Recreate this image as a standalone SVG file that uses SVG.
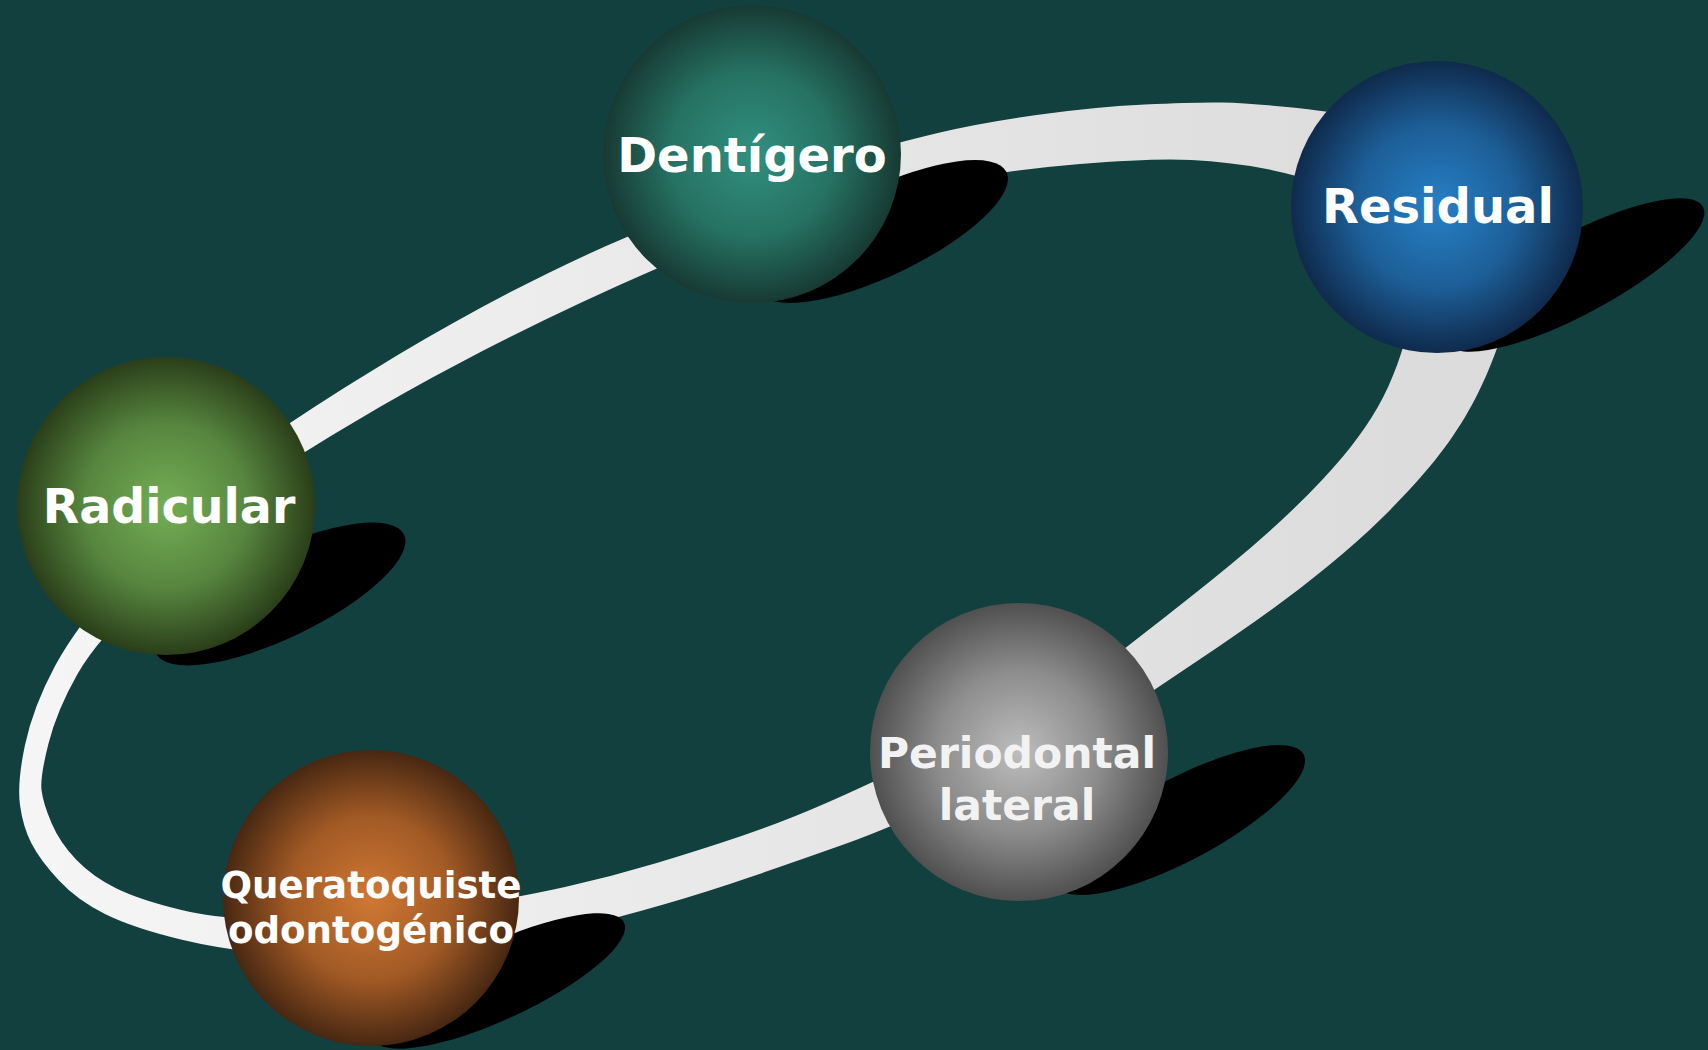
<svg xmlns="http://www.w3.org/2000/svg" width="1708" height="1050" viewBox="0 0 1708 1050">
<defs>
<style>
.lbl{font-family:"DejaVu Sans","Verdana",sans-serif;font-weight:bold;text-anchor:middle;fill:#ffffff}
.lbl-gray{fill:#f2f2f2}
.shadow{fill:#000000}
</style>
<linearGradient id="band" gradientUnits="userSpaceOnUse" x1="0" y1="0" x2="1400" y2="0">
<stop offset="0" stop-color="#f6f6f6"/>
<stop offset="1" stop-color="#dcdcdc"/>
</linearGradient>
<radialGradient id="gTeal" cx="0.5" cy="0.5" r="0.5">
<stop offset="0" stop-color="#31907f"/>
<stop offset="0.55" stop-color="#267263"/>
<stop offset="1" stop-color="#173a33"/>
</radialGradient>
<radialGradient id="gBlue" cx="0.5" cy="0.5" r="0.5">
<stop offset="0" stop-color="#2680c6"/>
<stop offset="0.55" stop-color="#1d5f98"/>
<stop offset="1" stop-color="#0f2a4c"/>
</radialGradient>
<radialGradient id="gGreen" cx="0.5" cy="0.5" r="0.5">
<stop offset="0" stop-color="#74ae55"/>
<stop offset="0.55" stop-color="#57863f"/>
<stop offset="1" stop-color="#2a3e19"/>
</radialGradient>
<radialGradient id="gGray" cx="0.5" cy="0.5" r="0.5">
<stop offset="0" stop-color="#bdbdbd"/>
<stop offset="0.55" stop-color="#8c8c8c"/>
<stop offset="1" stop-color="#505050"/>
</radialGradient>
<radialGradient id="gOrange" cx="0.5" cy="0.5" r="0.5">
<stop offset="0" stop-color="#d07833"/>
<stop offset="0.55" stop-color="#a25a25"/>
<stop offset="1" stop-color="#472712"/>
</radialGradient>
</defs>
<rect x="0" y="0" width="1708" height="1050" fill="#12403f"/>
<g id="connectors">
<path fill="url(#band)" fill-rule="evenodd" d="M 55,666 Q 33,707 25,745 Q 17,783 20,805 Q 23,827 31.5,843.5 Q 40,860 58.5,880 Q 77,900 105,914 Q 133,928 183,940 Q 233,952 306.5,957 Q 380,962 450,952 Q 520,942 570,929.5 Q 620,917 663.5,904.5 Q 707,892 753.5,876 Q 800,860 845,844 Q 890,828 956,797 L 1130,706 C 1217,647.3 1308.1,590.6 1383,517 C 1457.9,443.4 1487.8,391.4 1515,290 L 1475,189 Q 1440,128 1383.5,119.5 Q 1327,111 1287,107 Q 1247,103 1222,102.5 Q 1197,102 1145,104.5 Q 1093,107 1036.5,115 Q 980,123 940,132.5 Q 900,142 830,161 L 627,237 C 509.2,287 396.9,352.6 290,423 L 180,510 L 128.5,567.5 Q 77,625 55,666 Z M 77.5,674 Q 57,710 48.5,743.5 Q 40,777 41.5,790 Q 43,803 51.5,823 Q 60,843 76.5,860 Q 93,877 116.5,888.5 Q 140,900 181.5,910 Q 223,920 296.5,921 Q 370,922 445,909.5 Q 520,897 565,887 Q 610,877 655,863.5 Q 700,850 741.5,836 Q 783,822 827.5,802.5 Q 872,783 936,751.5 L 1100,668 C 1175.7,607.3 1256.8,549.9 1323,479 C 1377.6,420.5 1398.4,378.2 1415,300 L 1395,240 Q 1370,200 1334,187.5 Q 1298,175 1264,168.5 Q 1230,162 1191.5,160 Q 1153,158 1080,164 Q 1007,170 943.5,182.5 Q 880,195 820,210 L 658,268 C 535.9,320.8 417.8,381.5 305,452 L 200,545 L 149,591.5 Q 98,638 77.5,674 Z"/>
</g>
<g id="node-dentigero">
<ellipse class="shadow" cx="882.5" cy="231.5" rx="137.5" ry="44" transform="rotate(-25.6 882.5 231.5)"/>
<circle cx="752" cy="154" r="149" fill="url(#gTeal)"/>
<text class="lbl" x="752" y="172" font-size="48">Dentígero</text>
</g>
<g id="node-residual">
<ellipse class="shadow" cx="1575" cy="275" rx="145" ry="40" transform="rotate(-28 1575 275)"/>
<circle cx="1437" cy="207" r="146" fill="url(#gBlue)"/>
<text class="lbl" x="1438" y="223" font-size="48">Residual</text>
</g>
<g id="node-radicular">
<ellipse class="shadow" cx="280" cy="594" rx="137.5" ry="44" transform="rotate(-25.6 280 594)"/>
<circle cx="166" cy="506" r="149" fill="url(#gGreen)"/>
<text class="lbl" x="169" y="523" font-size="47.5">Radicular</text>
</g>
<g id="node-periodontal">
<ellipse class="shadow" cx="1180" cy="820" rx="140" ry="41" transform="rotate(-28 1180 820)"/>
<circle cx="1019" cy="752" r="149" fill="url(#gGray)"/>
<text class="lbl lbl-gray" x="1017" y="768" font-size="42.5">Periodontal</text>
<text class="lbl lbl-gray" x="1017" y="820" font-size="42.5">lateral</text>
</g>
<g id="node-queratoquiste">
<ellipse class="shadow" cx="499" cy="981" rx="138" ry="38" transform="rotate(-25 499 981)"/>
<circle cx="371" cy="898" r="148" fill="url(#gOrange)"/>
<text class="lbl" x="371" y="898" font-size="37.2">Queratoquiste</text>
<text class="lbl" x="371" y="943" font-size="37.2">odontogénico</text>
</g>
</svg>
